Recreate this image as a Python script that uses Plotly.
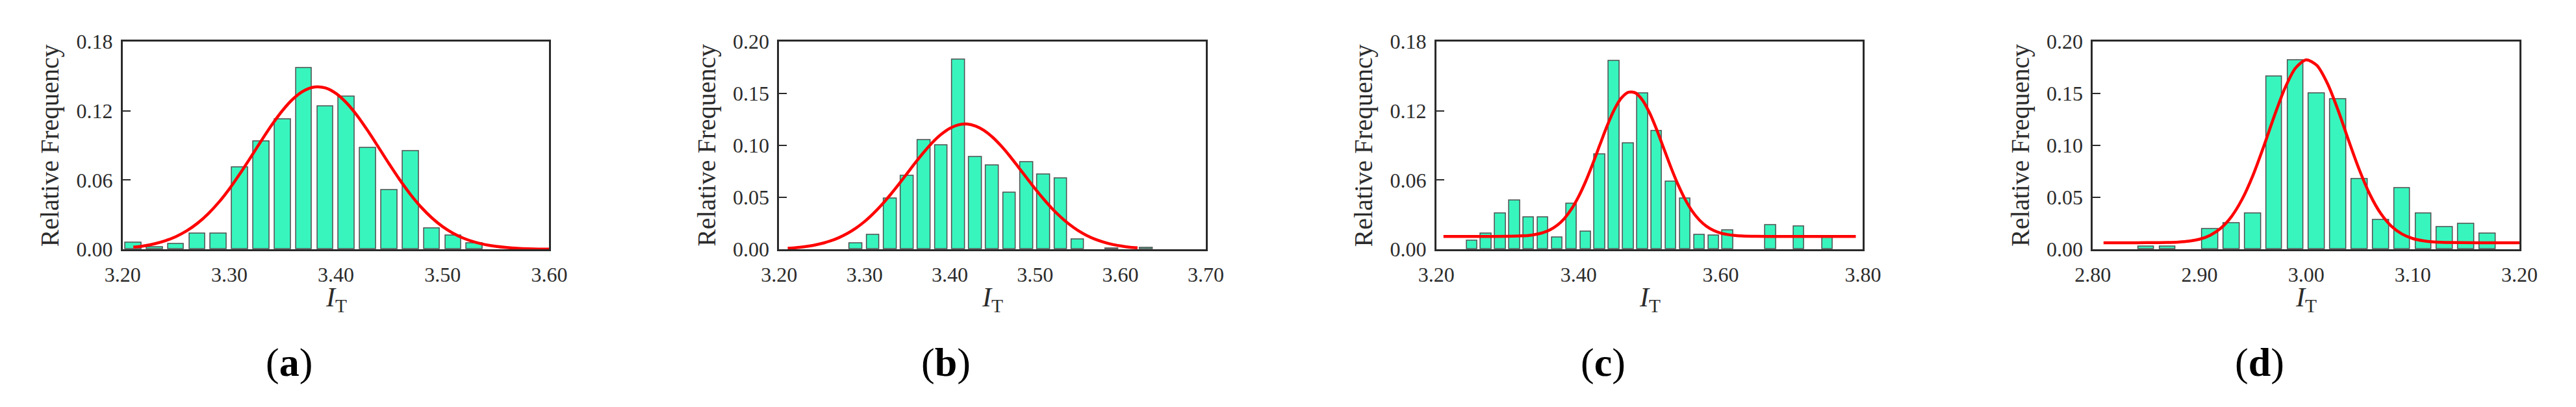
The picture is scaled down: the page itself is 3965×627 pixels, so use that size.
import plotly.graph_objects as go

#---------------------------------------- data ----------------

# (a)
a_bins = [3.21, 3.23, 3.25, 3.27, 3.29, 3.31, 3.33, 3.35, 3.37, 3.39, 3.41, 3.43, 3.45, 3.47, 3.49, 3.51, 3.53]
a_freq = [0.0059, 0.0017, 0.0050, 0.0136, 0.0140, 0.0713, 0.0934, 0.1125, 0.1570, 0.1237, 0.1320, 0.0880,
          0.0516, 0.0849, 0.0183, 0.0123, 0.0055]
a_fit_x = [3.21, 3.22, 3.23, 3.24, 3.25, 3.26, 3.27, 3.28, 3.29, 3.30, 3.31, 3.32, 3.33, 3.34, 3.35, 3.36,
           3.37, 3.38, 3.39, 3.40, 3.41, 3.42, 3.43, 3.44, 3.45, 3.46, 3.47, 3.48, 3.49, 3.50, 3.51, 3.52,
           3.53, 3.54, 3.55, 3.56, 3.57, 3.58, 3.59, 3.60]
a_fit_y = [0.0019, 0.0031, 0.0049, 0.0075, 0.0111, 0.0160, 0.0225, 0.0307, 0.0406, 0.0523, 0.0655, 0.0796,
           0.0940, 0.1079, 0.1203, 0.1304, 0.1373, 0.1405, 0.1397, 0.1350, 0.1267, 0.1156, 0.1024, 0.0882,
           0.0738, 0.0600, 0.0474, 0.0364, 0.0272, 0.0197, 0.0139, 0.0095, 0.0063, 0.0041, 0.0026, 0.0016,
           0.0009, 0.0005, 0.0003, 0.0002]

# (b)
b_bins = [3.29, 3.31, 3.33, 3.35, 3.37, 3.39, 3.41, 3.43, 3.45, 3.47, 3.49, 3.51, 3.53, 3.55, 3.59, 3.63]
b_freq = [0.0061, 0.0139, 0.0490, 0.0710, 0.1050, 0.1000, 0.1828, 0.0892, 0.0809, 0.0547, 0.0840, 0.0720,
          0.0684, 0.0097, 0.0010, 0.0017]
b_fit_x = [3.21, 3.22, 3.23, 3.24, 3.25, 3.26, 3.27, 3.28, 3.29, 3.30, 3.31, 3.32, 3.33, 3.34, 3.35, 3.36,
           3.37, 3.38, 3.39, 3.40, 3.41, 3.42, 3.43, 3.44, 3.45, 3.46, 3.47, 3.48, 3.49, 3.50, 3.51, 3.52,
           3.53, 3.54, 3.55, 3.56, 3.57, 3.58, 3.59, 3.60, 3.61, 3.62]
b_fit_y = [0.0011, 0.0017, 0.0026, 0.0039, 0.0057, 0.0081, 0.0113, 0.0154, 0.0205, 0.0267, 0.0342, 0.0427,
           0.0522, 0.0624, 0.0731, 0.0838, 0.0939, 0.1031, 0.1107, 0.1164, 0.1197, 0.1205, 0.1186, 0.1144,
           0.1079, 0.0996, 0.0900, 0.0795, 0.0688, 0.0582, 0.0483, 0.0391, 0.0311, 0.0241, 0.0183, 0.0136,
           0.0099, 0.0071, 0.0049, 0.0034, 0.0022, 0.0015]

# (c)
c_bins = [3.25, 3.27, 3.29, 3.31, 3.33, 3.35, 3.37, 3.39, 3.41, 3.43, 3.45, 3.47, 3.49, 3.51, 3.53, 3.55,
          3.57, 3.59, 3.61, 3.67, 3.71, 3.75]
c_freq = [0.0076, 0.0136, 0.0314, 0.0425, 0.0280, 0.0280, 0.0106, 0.0395, 0.0155, 0.0820, 0.1634, 0.0919,
          0.1350, 0.1027, 0.0586, 0.0442, 0.0129, 0.0123, 0.0166, 0.0208, 0.0202, 0.0102]
c_fit_x = [3.21, 3.24, 3.27, 3.30, 3.32, 3.33, 3.34, 3.35, 3.36, 3.37, 3.38, 3.39, 3.40, 3.41, 3.42, 3.43,
           3.44, 3.45, 3.46, 3.47, 3.48, 3.49, 3.50, 3.51, 3.52, 3.53, 3.54, 3.55, 3.56, 3.57, 3.58, 3.59,
           3.60, 3.61, 3.62, 3.63, 3.65, 3.68, 3.72, 3.76, 3.79]
c_fit_y = [0.0112, 0.0112, 0.0112, 0.0113, 0.0117, 0.0121, 0.0130, 0.0145, 0.0170, 0.0209, 0.0267, 0.0349,
           0.0456, 0.0588, 0.0741, 0.0905, 0.1066, 0.1206, 0.1308, 0.1360, 0.1354, 0.1291, 0.1180, 0.1035,
           0.0872, 0.0709, 0.0560, 0.0432, 0.0330, 0.0254, 0.0200, 0.0164, 0.0141, 0.0128, 0.0120, 0.0116,
           0.0113, 0.0112, 0.0112, 0.0112, 0.0112]

# (d)
d_bins = [2.85, 2.87, 2.91, 2.93, 2.95, 2.97, 2.99, 3.01, 3.03, 3.05, 3.07, 3.09, 3.11, 3.13, 3.15, 3.17]
d_freq = [0.0030, 0.0030, 0.0198, 0.0255, 0.0349, 0.1663, 0.1816, 0.1502, 0.1443, 0.0677, 0.0283, 0.0592,
          0.0349, 0.0215, 0.0248, 0.0151]
d_fit_x = [2.81, 2.84, 2.87, 2.88, 2.89, 2.90, 2.91, 2.92, 2.93, 2.94, 2.95, 2.96, 2.97, 2.98, 2.99, 3.00,
           3.01, 3.02, 3.03, 3.04, 3.05, 3.06, 3.07, 3.08, 3.09, 3.10, 3.11, 3.12, 3.13, 3.16, 3.20]
d_fit_y = [0.0064, 0.0064, 0.0066, 0.0070, 0.0079, 0.0098, 0.0136, 0.0204, 0.0316, 0.0483, 0.0709, 0.0984,
           0.1278, 0.1548, 0.1743, 0.1822, 0.1769, 0.1594, 0.1336, 0.1042, 0.0761, 0.0523, 0.0344, 0.0222,
           0.0147, 0.0104, 0.0082, 0.0071, 0.0067, 0.0064, 0.0064]

labels = ["a", "b", "c", "d"]
x_ranges = [[3.2, 3.6], [3.2, 3.7], [3.2, 3.8], [2.8, 3.2]]
x_dticks = [0.1, 0.1, 0.2, 0.1]
y_ranges = [[0, 0.18], [0, 0.20], [0, 0.18], [0, 0.20]]
y_dticks = [0.06, 0.05, 0.06, 0.05]

#---------------------------------------- layout (pixels of the 3965x627 page) -------

W, H = 3965, 627
plot_left = [155, 1180, 2206, 3231]
plot_w = 666
plot_top, plot_bottom = 40, 380
ylabel_off = 113
letter_off = -73

FONT = "Liberation Serif"
BAR_COLOR = "#38F5BE"
LINE_COLOR = "#2a2a2a"


def px(x):
    return x / W


def py(y):
    return 1 - y / H


fig = go.Figure()
panels = [(a_bins, a_freq, a_fit_x, a_fit_y), (b_bins, b_freq, b_fit_x, b_fit_y),
          (c_bins, c_freq, c_fit_x, c_fit_y), (d_bins, d_freq, d_fit_x, d_fit_y)]

annotations = []
for i, (bins, freq, fx, fy) in enumerate(panels):
    n = "" if i == 0 else str(i + 1)
    fig.add_trace(go.Bar(x=bins, y=freq, width=0.015, xaxis="x" + n, yaxis="y" + n,
                         marker=dict(color=BAR_COLOR, line=dict(color="#4d4d4d", width=1.5)),
                         showlegend=False))
    fig.add_trace(go.Scatter(x=fx, y=fy, mode="lines", xaxis="x" + n, yaxis="y" + n,
                             line=dict(color="#ff0000", width=4.5, shape="spline", smoothing=0.8),
                             showlegend=False, cliponaxis=True))

    left = plot_left[i]
    right = left + plot_w
    fig.update_layout({
        "xaxis" + n: dict(domain=[px(left), px(right)], range=x_ranges[i], dtick=x_dticks[i],
                          tick0=x_ranges[i][0], tickformat=".2f", showline=True, mirror=True,
                          linecolor=LINE_COLOR, linewidth=3, showgrid=False, zeroline=False,
                          ticks="", ticklabelstandoff=8, anchor="y" + n,
                          tickfont=dict(family=FONT, size=32, color="#2b2b2b")),
        "yaxis" + n: dict(domain=[py(plot_bottom), py(plot_top)], range=y_ranges[i], dtick=y_dticks[i],
                          tickformat=".2f", showline=True, mirror=True, linecolor=LINE_COLOR,
                          linewidth=3, showgrid=False, zeroline=False, ticks="inside", ticklen=12,
                          tickwidth=2, tickcolor=LINE_COLOR, ticklabelstandoff=6, anchor="x" + n,
                          tickfont=dict(family=FONT, size=32, color="#2b2b2b")),
    })

    mid = left + plot_w / 2
    annotations.append(dict(x=px(left - ylabel_off), y=py((plot_top + plot_bottom) / 2),
                            xref="paper", yref="paper", text="Relative Frequency", textangle=-90,
                            showarrow=False, xanchor="center", yanchor="middle",
                            font=dict(family=FONT, size=40, color="#2b2b2b")))
    annotations.append(dict(x=px(mid), y=py(462), xref="paper", yref="paper",
                            text="<i>I</i><sub>T</sub>", showarrow=False,
                            xanchor="center", yanchor="middle",
                            font=dict(family=FONT, size=42, color="#2b2b2b")))
    annotations.append(dict(x=px(mid + letter_off), y=py(565), xref="paper", yref="paper",
                            text="(<b>" + labels[i] + "</b>)", showarrow=False,
                            xanchor="center", yanchor="middle",
                            font=dict(family=FONT, size=62, color="#000000")))

fig.update_layout(width=W, height=H, margin=dict(l=0, r=0, t=0, b=0),
                  paper_bgcolor="white", plot_bgcolor="white", bargap=0,
                  annotations=annotations, showlegend=False)

fig.write_html("out.html")
